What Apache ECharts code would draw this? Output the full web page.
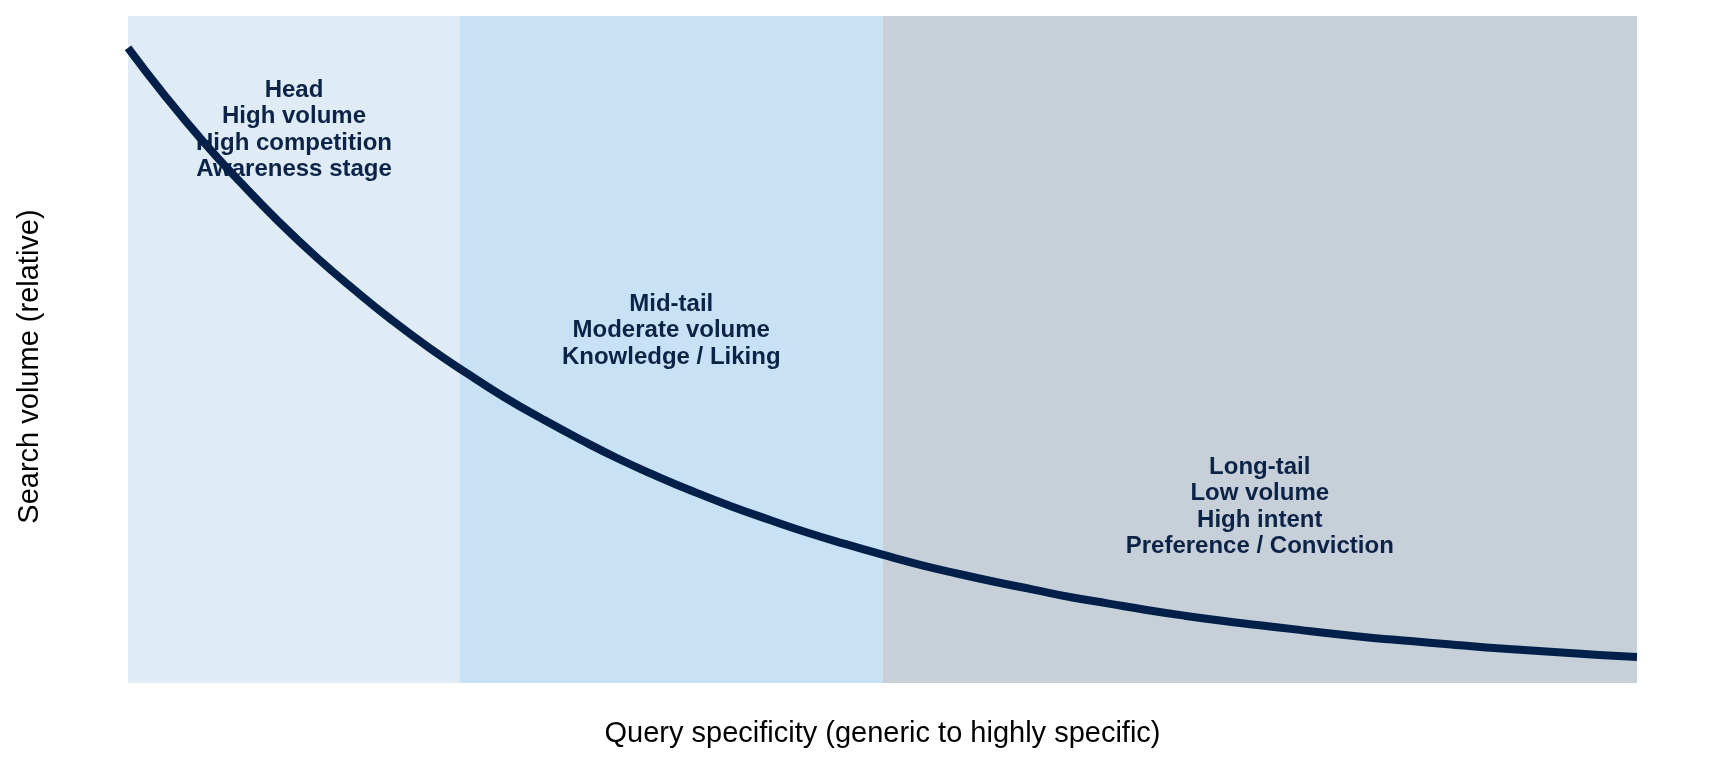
<!DOCTYPE html>
<html>
<head>
<meta charset="utf-8">
<script src="https://cdn.jsdelivr.net/npm/echarts@6/dist/echarts.min.js"></script>
<style>
html, body { margin: 0; padding: 0; background: #fff; }
#chart { width: 1728px; height: 768px; }
</style>
</head>
<body>
<div id="chart"></div>
<script>
// specificity position (0 = generic, 100 = highly specific)
var specificity = [0, 2.5, 5, 7.5, 10, 12.5, 15, 17.5, 20, 22.5, 25, 27.5, 30, 32.5, 35, 37.5, 40,
	42.5, 45, 47.5, 50, 52.5, 55, 57.5, 60, 62.5, 65, 67.5, 70, 72.5, 75, 77.5, 80, 82.5, 85,
	87.5, 90, 92.5, 95, 97.5, 100];
// relative search volume
var volume = [1.000, 0.923, 0.852, 0.787, 0.726, 0.670, 0.619, 0.571, 0.527, 0.487, 0.449,
	0.415, 0.383, 0.353, 0.326, 0.301, 0.278, 0.257, 0.237, 0.219, 0.202, 0.186, 0.172, 0.159,
	0.147, 0.135, 0.125, 0.115, 0.106, 0.098, 0.091, 0.084, 0.077, 0.071, 0.066, 0.061, 0.056,
	0.052, 0.048, 0.044, 0.041];

// segments along the x axis
var bandStart = [0, 22, 50];
var bandEnd = [22, 50, 100];
var bandColor = ['#dfebf5', '#c9e1f5', '#c7cfd8'];
var bandText = [
	['Head', 'High volume', 'High competition', 'Awareness stage'],
	['Mid-tail', 'Moderate volume', 'Knowledge / Liking'],
	['Long-tail', 'Low volume', 'High intent', 'Preference / Conviction']
];
var bandLabelTop = [61, 275, 438];

function initTailChart(){
	var curveData = [];
	for (var i = 0; i < specificity.length; i++) {
		curveData.push([specificity[i], volume[i]]);
	}
	var areas = [];
	for (var j = 0; j < bandStart.length; j++) {
		areas.push([
			{
				xAxis: bandStart[j],
				itemStyle: { color: bandColor[j], opacity: 1 },
				label: {
					show: true,
					position: ['50%', bandLabelTop[j]],
					align: 'center',
					verticalAlign: 'top',
					formatter: bandText[j].join('\n')
				}
			},
			{ xAxis: bandEnd[j] }
		]);
	}
	var option = {
		animation: false,
		textStyle: { fontFamily: 'Liberation Sans' },
		grid: {
			left: 128,
			right: 91,
			top: 16,
			bottom: 85,
			containLabel: false
		},
		xAxis: {
			type: 'value',
			min: 0,
			max: 100,
			name: 'Query specificity (generic to highly specific)',
			nameLocation: 'middle',
			nameGap: 36,
			nameTextStyle: { fontSize: 29, color: '#000', fontFamily: 'Liberation Sans' },
			axisLine: { show: false },
			axisTick: { show: false },
			axisLabel: { show: false },
			splitLine: { show: false }
		},
		yAxis: {
			type: 'value',
			min: 0,
			max: 1.05,
			name: 'Search volume (relative)',
			nameLocation: 'middle',
			nameGap: 84,
			nameTextStyle: { fontSize: 29, color: '#000', fontFamily: 'Liberation Sans', padding: [0, 34, 0, 0] },
			axisLine: { show: false },
			axisTick: { show: false },
			axisLabel: { show: false },
			splitLine: { show: false }
		},
		series: [
			{
				name: 'bands',
				type: 'line',
				z: 1,
				data: [],
				silent: true,
				markArea: {
					silent: true,
					label: {
						color: '#0a2347',
						fontSize: 24,
						fontWeight: 'bold',
						lineHeight: 26.5,
						fontFamily: 'Liberation Sans'
					},
					data: areas
				}
			},
			{
				name: 'Search volume',
				type: 'line',
				z: 5,
				smooth: true,
				showSymbol: false,
				data: curveData,
				lineStyle: { color: '#00204a', width: 8, cap: 'butt' }
			}
		]
	};
	var tailChart = echarts.init(document.getElementById('chart'));
	tailChart.setOption(option);
}

initTailChart();
</script>
</body>
</html>
